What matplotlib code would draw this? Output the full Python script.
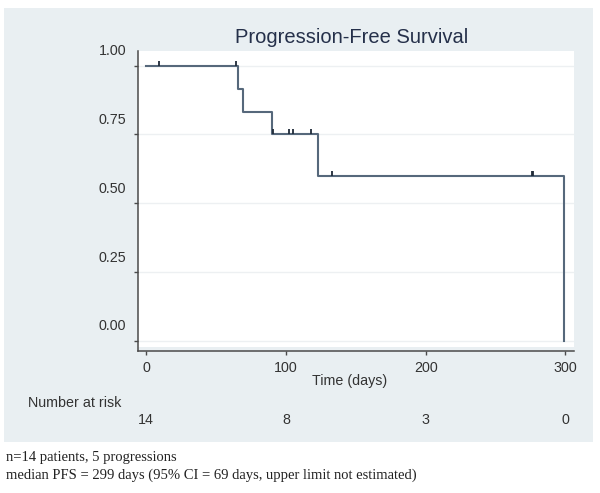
import matplotlib
matplotlib.use("Agg")
import matplotlib.pyplot as plt
from matplotlib import transforms
from matplotlib.patches import Rectangle

# ---- data ----
step_times = [0, 66, 69, 90, 123, 299]
step_surv = [1.0, 0.917, 0.833, 0.75, 0.60, 0.0]
censor_times = [9, 64, 91, 102, 105, 118, 133, 276, 277]
censor_surv = [1.0, 1.0, 0.75, 0.75, 0.75, 0.75, 0.60, 0.60, 0.60]
y_ticks = [0.0, 0.25, 0.50, 0.75, 1.00]
y_ticklabels = ["0.00", "0.25", "0.50", "0.75", "1.00"]
x_ticks = [0, 100, 200, 300]
x_ticklabels = ["0", "100", "200", "300"]
at_risk = ["14", "8", "3", "0"]
title = "Progression-Free Survival"
xlabel = "Time (days)"
risk_label = "Number at risk"
notes = ["n=14 patients, 5 progressions",
         "median PFS = 299 days (95% CI = 69 days, upper limit not estimated)"]

W, H = 600, 493
fig = plt.figure(figsize=(W / 100, H / 100), dpi=100)
fig.patch.set_facecolor("white")

def fx(px):
    return px / W

def fy(py):
    return 1 - py / H

panel_col = "#e9eff2"
fig.patches.append(Rectangle((fx(4), fy(442)), fx(593) - fx(4), fy(8.3) - fy(442),
                             transform=fig.transFigure, facecolor=panel_col,
                             edgecolor="none", zorder=-5))

ax_l, ax_r, ax_t, ax_b = 137.7, 574, 51, 350.7
ax = fig.add_axes([fx(ax_l), fy(ax_b), fx(ax_r) - fx(ax_l), fy(ax_t) - fy(ax_b)])
ax.set_zorder(2)
ax.set_facecolor("white")
ax.set_xlim(-6.16, 306.2)
ax.set_ylim(-0.0364, 1.0535)
ax.axhspan(-0.0364, -0.0218, color=panel_col, lw=0, zorder=0.5)

for v in y_ticks:
    ax.axhline(v, color="#edf0f2", lw=1.0, zorder=1)

ax.step(step_times, step_surv, where="post", color="#56687b", lw=1.5, zorder=3)
ax.plot(censor_times, censor_surv, linestyle="none", marker=[(0, 0), (0, 1)],
        markersize=7.5, markeredgewidth=1.3, color="#1f2a38", zorder=4)

for s in ["top", "right"]:
    ax.spines[s].set_visible(False)
for s in ["left", "bottom"]:
    ax.spines[s].set_color("#4a4a4a")
    ax.spines[s].set_linewidth(1.1)

ax.set_yticks(y_ticks)
ax.set_yticklabels([])
ax.tick_params(axis="y", length=3, width=1.0, color="#4a4a4a")
ax.set_xticks(x_ticks)
ax.set_xticklabels(x_ticklabels, fontsize=10.3, family="Liberation Sans", color="#333333")
ax.tick_params(axis="x", length=3, width=1.0, color="#4a4a4a", pad=4.2)

lab_tr = ax.get_yaxis_transform() + transforms.ScaledTranslation(-11.5 / 100, 14.3 / 100, fig.dpi_scale_trans)
for v, s in zip(y_ticks, y_ticklabels):
    ax.text(0, v, s, transform=lab_tr, ha="right", va="center", fontsize=10.3,
            family="Liberation Sans", color="#333333", clip_on=False)

fig.text(fx(351.3), fy(43.3), title, ha="center", va="baseline", fontsize=14.5,
         family="Liberation Sans", color="#25304a")
fig.text(fx(350), fy(381.5), xlabel, ha="center", va="center", fontsize=10.3,
         family="Liberation Sans", color="#333333")
fig.text(fx(28), fy(402.7), risk_label, ha="left", va="center", fontsize=10.3,
         family="Liberation Sans", color="#333333")

risk_tr = transforms.blended_transform_factory(ax.transData, fig.transFigure)
for xv, s in zip(x_ticks, at_risk):
    ax.text(xv, fy(420), s, transform=risk_tr, ha="center", va="center", fontsize=10.3,
            family="Liberation Sans", color="#333333", clip_on=False)

fig.text(fx(6), fy(458), notes[0], ha="left", va="center", fontsize=10.5,
         family="Liberation Serif", color="#222222")
fig.text(fx(6), fy(475), notes[1], ha="left", va="center", fontsize=10.5,
         family="Liberation Serif", color="#222222")

fig.savefig("out.png", dpi=100)
